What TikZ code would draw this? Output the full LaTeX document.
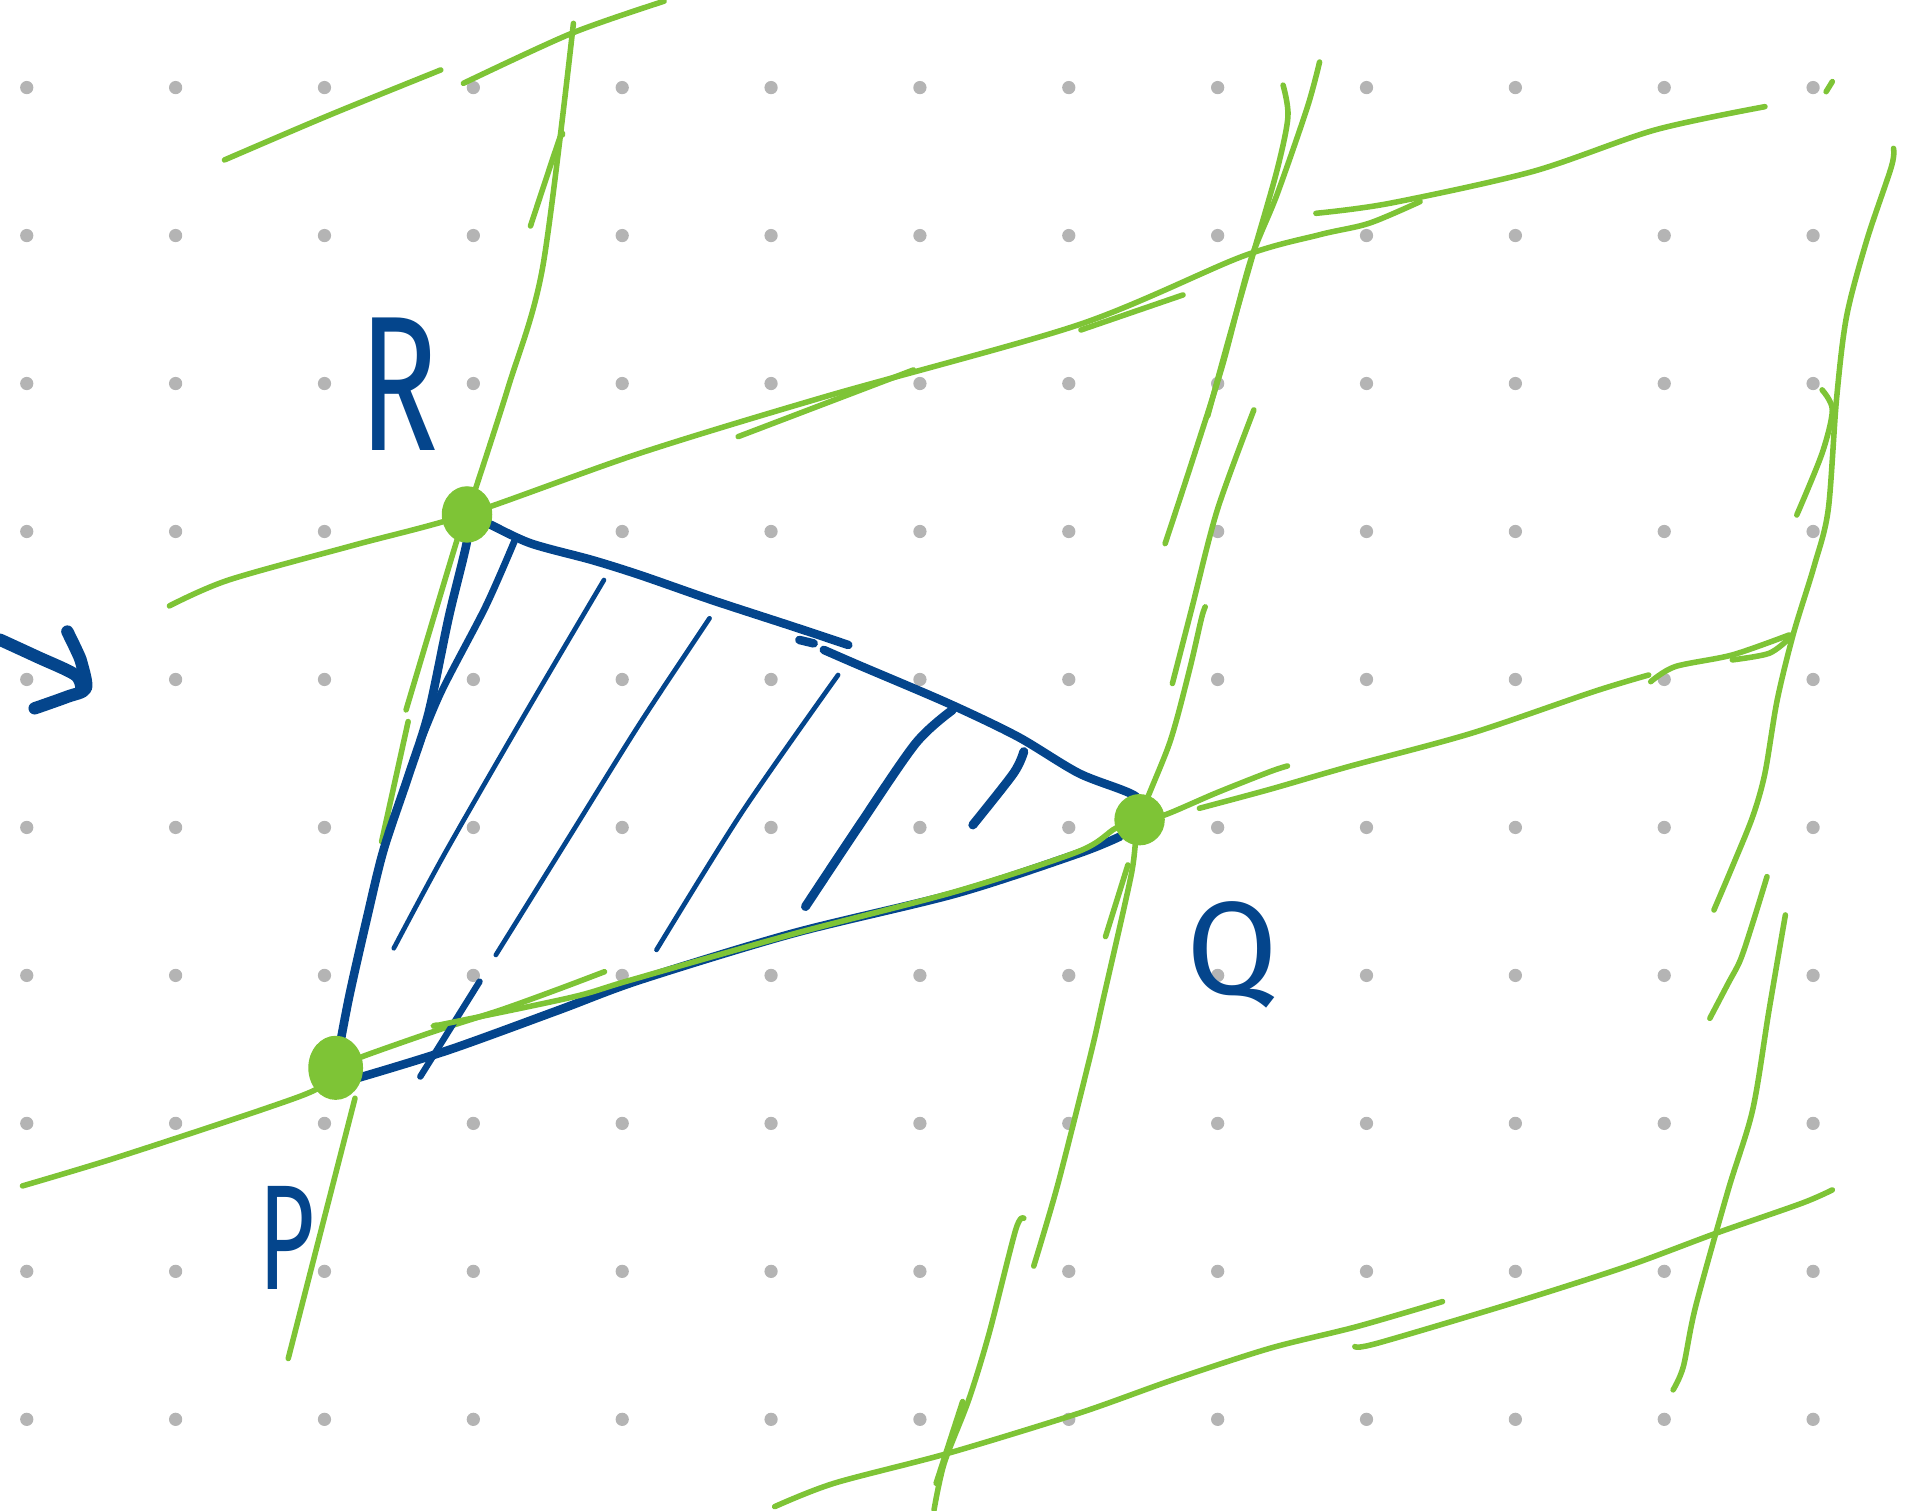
\documentclass[tikz,border=0pt]{standalone}
\usepackage{fontspec}
\newfontfamily\handfont{Fira Sans}
\usepackage{xcolor}
\usetikzlibrary{positioning, calc}

\definecolor{latgreen}{RGB}{126,196,54}
\definecolor{inkblue}{RGB}{4,69,140}
\definecolor{dotgrey}{RGB}{180,180,180}

\begin{document}
\begin{tikzpicture}[x=0.01cm, y=-0.01cm, line cap=round, line join=round,
    lattice/.style={latgreen, line width=1.3pt},
    edge/.style={inkblue, line width=2pt},
    hatch/.style={inkblue, line width=1.1pt},
    thickhatch/.style={inkblue, line width=2.1pt},
    arrowstroke/.style={inkblue, line width=2.9pt},
    lattpt/.style={fill=latgreen},
    letter/.style={inkblue, inner sep=0pt, font=\handfont}]

    \useasboundingbox (0,0) rectangle (1568,1242);

    % Dot grid
    \foreach \i in {0,...,12}
        \foreach \j in {0,...,9}
            \fill[dotgrey] (22+122.4*\i, 72+121.67*\j) circle (1.55pt);

    % Lattice points
    \coordinate (P) at (276,878);
    \coordinate (Q) at (937,674);
    \coordinate (R) at (384,423);

    % Green lattice, top row
    \draw[lattice] plot[smooth] coordinates {(184.6,131.5) (270,95) (362.4,57.5)};
    \draw[lattice] plot[smooth] coordinates {(381,68.5) (470,27.4) (546,1)};
    \draw[lattice] plot[smooth] coordinates {(436.2,185.8) (459.7,115.1) (462.4,111)};

    % Green lattice, line through R and P
    \draw[lattice] plot[smooth] coordinates {(471.5,19.2) (446.3,219.2) (418,318) (R) (375.8,444) (333.9,583.7)};
    \draw[lattice] plot[smooth] coordinates {(335.6,593.3) (313.8,692)};
    \draw[lattice] plot[smooth] coordinates {(291.9,903) (237,1117)};

    % Green lattice, line through R
    \draw[lattice] plot[smooth] coordinates {(139.3,498.2) (188,476.9) (292,448) (R) (526,372.7) (679,326) (887,267) (1021,211) (1085,193) (1125.7,183.6) (1167.6,165.8)};
    \draw[lattice] plot[smooth] coordinates {(607,359) (751,304.2)};
    \draw[lattice] plot[smooth] coordinates {(888.8,271.3) (972.7,242.5)};
    \draw[lattice] plot[smooth] coordinates {(1082,175.4) (1142.5,167.2) (1260,141.1) (1360.6,106.9) (1451.2,87.7)};
    \draw[lattice] plot[smooth] coordinates {(1501.5,75.4) (1506.6,67.1)};

    % Green lattice, line through Q
    \draw[lattice] plot[smooth] coordinates {(1085,51) (1075,88) (1050,160) (1028,215) (1005,301) (980,380) (958,447)};
    \draw[lattice] plot[smooth] coordinates {(1055,70) (1059,96) (1050,140) (1030,210) (1010,280) (993,342)};
    \draw[lattice] plot[smooth] coordinates {(1031,337) (1001,419) (980,500) (964,562)};
    \draw[lattice] plot[smooth] coordinates {(991,499) (988,508) (978,551) (962,610) (Q) (930,720) (907,822) (897,866) (870,973) (850,1041)};
    \draw[lattice] plot[smooth] coordinates {(927.4,711.2) (909,770.1)};
    \draw[lattice] plot[smooth] coordinates {(841.8,1001.7) (835.1,1011.3) (813.3,1096.3) (796.5,1151) (776.4,1203) (768,1241.5)};
    \draw[lattice] plot[smooth] coordinates {(791.5,1152.4) (769.7,1219.6)};

    % Green lattice, bottom row
    \draw[lattice] plot[smooth] coordinates {(637,1238.8) (685.8,1219.6) (779.7,1194.9) (887.1,1162) (964.3,1134.6) (1044.2,1108.6) (1115.6,1090.8) (1186.1,1070.2)};
    \draw[lattice] plot[smooth] coordinates {(1114,1107.2) (1132.4,1104.5) (1243.1,1071.6) (1337.1,1041.4) (1411,1014) (1481.4,989.4) (1506.6,978.4)};

    % Green lattice, right column
    \draw[lattice] plot[smooth] coordinates {(1468,752.3) (1454.6,830.4) (1441.1,912.6) (1421,978.4) (1394.2,1074.3) (1384.1,1123.7) (1375.7,1142.8)};
    \draw[lattice] plot[smooth] coordinates {(1556.9,122) (1555.2,137) (1535,197.3) (1518.3,260.3) (1510,328.9) (1503.2,419.3) (1491.5,465.9) (1474.7,520.7) (1461.3,575.5) (1451.2,635.8) (1441.1,671.5) (1424.4,712.6) (1409.3,748.2)};
    \draw[lattice] plot[smooth] coordinates {(1498.2,320.6) (1506.6,337.1) (1498.2,372.7) (1477.4,423.4)};
    \draw[lattice] plot[smooth] coordinates {(1452.9,720.8) (1441.1,759.1) (1431,789.3) (1421,808.5) (1405.9,837.3)};

    % Green lattice, line through P and Q
    \draw[lattice] plot[smooth] coordinates {(Q) (957.6,670.1) (1000,652) (1044.2,634.5) (1058.6,629.8)};
    \draw[lattice] plot[smooth] coordinates {(986.2,664.6) (1044.2,649) (1108.9,630.3) (1209.6,603) (1310.3,568.7) (1355.6,555)};
    \draw[lattice] plot[smooth] coordinates {(1357.3,560.5) (1377.4,548.1) (1424.4,538.5) (1471.3,522)};
    \draw[lattice] plot[smooth] coordinates {(1424.4,542.6) (1454.6,537.2) (1471.3,524.8)};
    \draw[lattice] plot[smooth] coordinates {(18.5,975.1) (94,952.4) (214.8,912.6) (261.7,894.8) (P)};
    \draw[lattice] plot[smooth] coordinates {(P) (300,868) (360,847) (413,830) (460,813) (497,799)};

    % Triangle PQR
    \draw[edge] plot[smooth] coordinates {(R) (384.2,444) (369.1,507) (352.3,586.5) (335.6,638.6) (315.4,698.8) (302,753.7) (287,820) (P)};
    \draw[inkblue, line width=1.6pt] plot[smooth] coordinates {(422.8,445.4) (399.3,498.8) (362.4,570) (338.9,627.6)};
    \draw[edge] plot[smooth] coordinates {(R) (401,430.3) (436.2,446.7) (486.6,460.4) (526.2,472.8) (585.1,493.3) (652.2,515.2) (697.5,530.3)};
    \draw[edge] (657.3,526.2) -- (669,529);
    \draw[edge] plot[smooth] coordinates {(677.4,534.4) (705.9,546.8) (779.7,578.3) (836.8,605.7) (887.1,635.8) (934.1,655) (Q)};
    \draw[edge] plot[smooth] coordinates {(270,892) (292,887) (369.1,863.3) (459.7,830.4) (526.2,805.7) (652.2,767.4) (786.4,734.5) (887.1,701.6) (920.7,687.9)};

    % Hatching
    \draw[hatch] plot[smooth] coordinates {(323.8,779.7) (365.8,701.6) (430,590) (496.6,476.9)};
    \draw[hatch] plot[smooth] coordinates {(407.7,785.2) (470,685) (526.2,594.7) (583.4,508.4)};
    \draw[hatch] plot[smooth] coordinates {(539.8,781) (610,668) (689.1,555)};
    \draw[thickhatch] plot[smooth] coordinates {(662.3,745.4) (705.9,679.7) (752.9,611.2) (783.1,583.8)};
    \draw[thickhatch] plot[smooth] coordinates {(799.9,678.3) (833.4,635.8) (841.8,618)};
    \draw[inkblue, line width=1.5pt] (394.3,807.1) -- (345.6,885.2);

    % Green edge over PQ
    \draw[lattice] plot[smooth] coordinates {(359,842.8) (365,842) (470,820) (518,806) (652,768) (786,733) (887,700) (917.3,681) (Q)};

    % Lattice point dots
    \fill[lattpt] (R) ellipse (5.9pt and 6.6pt);
    \fill[lattpt] (P) ellipse (6.4pt and 7.5pt);
    \fill[lattpt] (Q) ellipse (5.9pt and 6pt);

    % Labels
    \node[letter, font=\handfont\fontsize{45}{45}\selectfont, xscale=0.68] (labR) at (328,316) {R};
    \node[letter, font=\handfont\fontsize{35}{35}\selectfont, xscale=0.65] (labP) at (236,1018) {P};
    \node[letter, font=\handfont\fontsize{31}{31}\selectfont] (labQ) at (1013,785) {Q};

    % Arrow at left
    \draw[arrowstroke] plot[smooth] coordinates {(0,526) (30.2,539.9) (62.1,555) (67.1,567.3)};
    \draw[arrowstroke] plot[smooth] coordinates {(55.4,519.3) (63,535) (67.1,545.4) (70.5,566) (55,573) (28.5,582.4)};

\end{tikzpicture}
\end{document}
